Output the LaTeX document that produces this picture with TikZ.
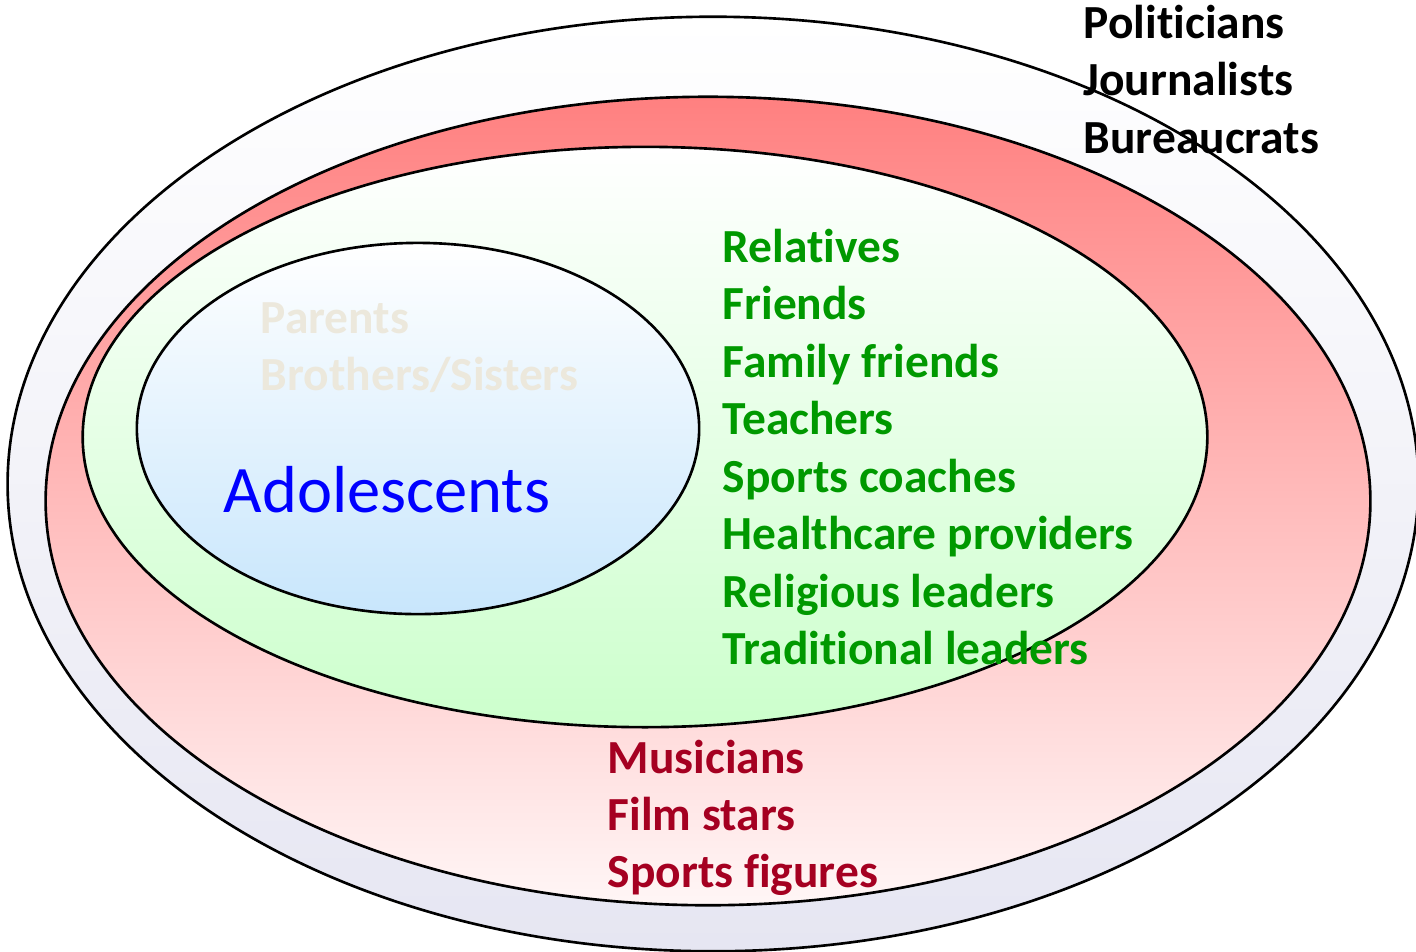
\documentclass[tikz,border=0pt]{standalone}
\usepackage{fontspec}
\setmainfont{Carlito}[Ligatures=NoCommon]
\definecolor{outerlav}{RGB}{230,230,242}
\definecolor{redtop}{RGB}{255,128,128}
\definecolor{redbot}{RGB}{255,246,246}
\definecolor{greenbot}{RGB}{204,255,204}
\definecolor{bluebot}{RGB}{200,230,252}
\definecolor{nearcol}{RGB}{0,153,0}
\definecolor{farcol}{RGB}{165,0,33}
\definecolor{famcol}{RGB}{236,232,220}
\tikzset{
  ring/.style={draw=black, line width=0.75pt},
  item/.style={anchor=base west, inner sep=0pt, font=\bfseries\fontsize{13.5}{16}\selectfont},
}
\begin{document}
\begin{tikzpicture}[x=0.01cm, y=-0.01cm]
                        \useasboundingbox (0,0) rectangle (1416,951);
                        % circles of influence
                        \shade [ring, top color=white, bottom color=outerlav] (713,484) ellipse [x radius=7.05cm, y radius=4.67cm];
                        \shade [ring, top color=redtop, bottom color=redbot] (708,501) ellipse [x radius=6.62cm, y radius=4.04cm];
                        \shade [ring, top color=white, bottom color=greenbot] (645,437) ellipse [x radius=5.62cm, y radius=2.90cm];
                        \shade [ring, top color=white, bottom color=bluebot] (418,428.5) ellipse [x radius=2.81cm, y radius=1.855cm];
                        % labels
                        \node [item, text=famcol] (parents) at (260,333){Parents};
                        \node [item, text=famcol] (siblings) at (260,390){Brothers/Sisters};
                        \node [anchor=base west, inner sep=0pt, text=blue, font=\fontsize{18.9}{22}\selectfont] (teens) at (223,512){Adolescents};
                        \foreach \txt [count=\i] in {Relatives, Friends, Family friends, Teachers, Sports coaches, Healthcare providers, Religious leaders, Traditional leaders}
                            \node [item, text=nearcol] (near\i) at (722,{262+57.5*(\i-1)}){\txt};
                        \foreach \txt [count=\i] in {Musicians, Film stars, Sports figures}
                            \node [item, text=farcol] (far\i) at (607,{773+57*(\i-1)}){\txt};
                        \foreach \txt [count=\i] in {Politicians, Journalists, Bureaucrats}
                            \node [item, text=black] (pub\i) at (1083,{38+57.5*(\i-1)}){\txt};
                    \end{tikzpicture}
\end{document}
